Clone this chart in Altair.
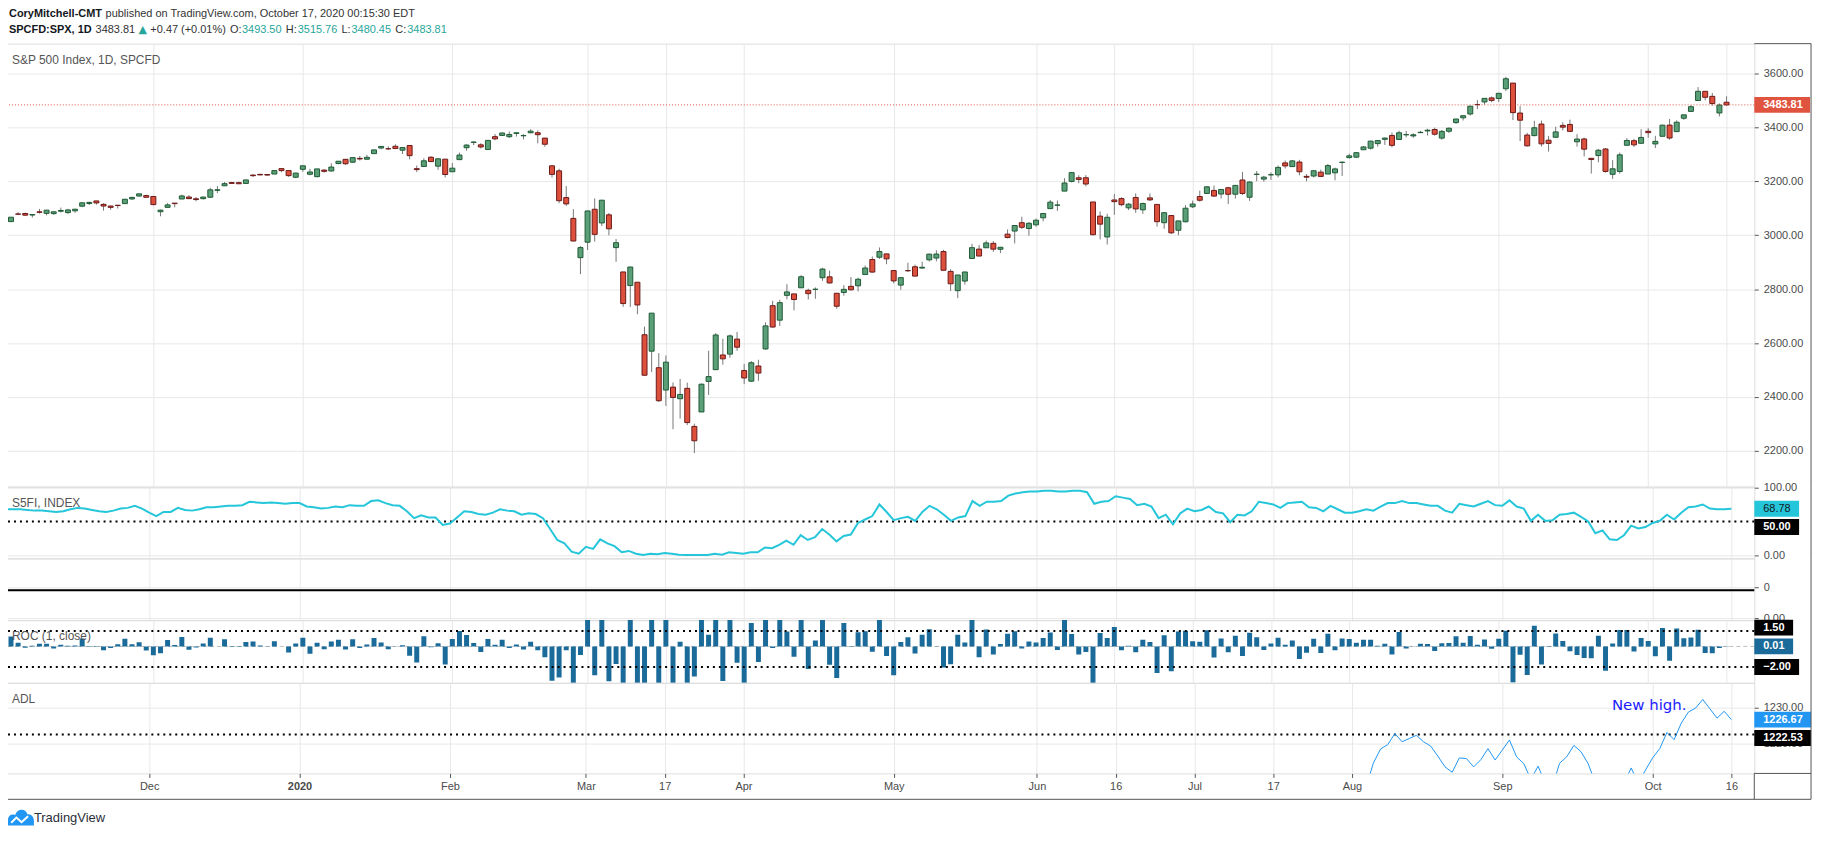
import altair as alt
import pandas as pd

# ---------------- data ----------------
# daily candles (open, high, low, close); first row = previous session, off-screen
oct19_prev = [(3046.90, 3046.90, 3023.19, 3037.56)]
nov19 = [
    (3050.72, 3066.95, 3050.72, 3066.91), (3078.96, 3085.20, 3074.87, 3078.27),
    (3080.80, 3083.95, 3072.15, 3074.62), (3075.10, 3078.34, 3065.89, 3076.78),
    (3087.02, 3097.77, 3080.23, 3085.18), (3081.25, 3093.09, 3073.58, 3093.08),
    (3080.33, 3088.33, 3075.82, 3087.01), (3089.28, 3102.61, 3084.73, 3091.84),
    (3084.18, 3098.06, 3078.80, 3094.04), (3090.75, 3098.20, 3083.26, 3096.63),
    (3107.92, 3120.46, 3104.60, 3120.46), (3117.91, 3124.17, 3112.06, 3122.03),
    (3127.45, 3127.64, 3113.47, 3120.18), (3114.66, 3118.97, 3091.41, 3108.46),
    (3108.49, 3110.11, 3094.55, 3103.54), (3111.41, 3112.87, 3099.26, 3110.29),
    (3117.44, 3133.83, 3117.44, 3133.64), (3134.85, 3142.69, 3131.00, 3140.52),
    (3145.49, 3154.26, 3143.41, 3153.63), (3147.18, 3150.30, 3139.34, 3140.98),
]
dec19 = [
    (3143.85, 3144.31, 3110.78, 3113.87), (3087.41, 3094.97, 3070.33, 3093.20),
    (3103.50, 3119.38, 3102.53, 3112.76), (3119.21, 3119.45, 3103.76, 3117.43),
    (3134.62, 3150.60, 3134.62, 3145.91), (3141.86, 3148.87, 3135.46, 3135.96),
    (3135.36, 3142.12, 3126.09, 3132.52), (3135.75, 3143.98, 3133.21, 3141.63),
    (3141.23, 3176.28, 3138.47, 3168.57), (3166.65, 3182.68, 3156.51, 3168.80),
    (3183.63, 3197.71, 3183.63, 3191.45), (3195.40, 3198.22, 3191.03, 3192.52),
    (3195.21, 3198.48, 3191.14, 3191.14), (3192.32, 3205.48, 3192.32, 3205.37),
    (3223.33, 3225.65, 3216.03, 3221.22), (3226.05, 3227.78, 3222.30, 3224.01),
    (3225.45, 3226.43, 3220.51, 3223.38), (3227.20, 3240.08, 3227.20, 3239.91),
    (3247.23, 3247.93, 3234.37, 3240.02), (3240.09, 3240.92, 3216.57, 3221.29),
    (3215.18, 3231.72, 3212.03, 3230.78),
]
jan20 = [
    (3244.67, 3258.14, 3235.53, 3257.85), (3226.36, 3246.15, 3222.34, 3234.85),
    (3217.55, 3246.84, 3214.64, 3246.28), (3241.86, 3244.91, 3232.43, 3237.18),
    (3238.59, 3267.07, 3236.67, 3253.05), (3266.03, 3275.58, 3263.67, 3274.70),
    (3281.81, 3282.99, 3260.86, 3265.35), (3271.13, 3288.13, 3268.43, 3288.13),
    (3285.35, 3294.25, 3277.19, 3283.15), (3282.27, 3298.66, 3280.69, 3289.29),
    (3302.97, 3317.11, 3302.82, 3316.81), (3323.66, 3329.88, 3318.86, 3329.62),
    (3321.03, 3329.79, 3316.61, 3320.79), (3330.02, 3337.77, 3320.04, 3321.75),
    (3315.77, 3326.88, 3301.87, 3325.54), (3333.10, 3333.18, 3281.53, 3295.47),
    (3247.16, 3258.85, 3234.50, 3243.63), (3255.35, 3285.78, 3253.22, 3276.24),
    (3289.46, 3293.47, 3271.89, 3273.40), (3256.45, 3285.91, 3242.80, 3283.66),
    (3282.33, 3282.33, 3214.68, 3225.52),
]
feb20 = [
    (3235.66, 3268.44, 3235.66, 3248.92), (3280.61, 3306.92, 3280.61, 3297.59),
    (3324.91, 3337.58, 3313.75, 3334.69), (3344.92, 3347.96, 3334.39, 3345.78),
    (3335.54, 3341.42, 3322.12, 3327.71), (3318.28, 3352.26, 3317.77, 3352.09),
    (3365.87, 3375.63, 3352.72, 3357.75), (3370.50, 3381.47, 3369.72, 3379.45),
    (3365.90, 3385.09, 3360.52, 3373.94), (3378.08, 3380.69, 3366.15, 3380.16),
    (3369.04, 3375.01, 3355.61, 3370.29), (3380.39, 3393.52, 3378.83, 3386.15),
    (3380.45, 3389.15, 3341.02, 3373.23), (3360.50, 3360.76, 3328.45, 3337.75),
    (3257.61, 3259.81, 3214.65, 3225.89), (3238.94, 3246.99, 3118.77, 3128.21),
    (3139.90, 3182.51, 3108.99, 3116.39), (3062.54, 3097.07, 2977.39, 2978.76),
    (2916.90, 2959.72, 2855.84, 2954.22),
]
mar20 = [
    (2974.28, 3090.96, 2945.19, 3090.23), (3096.46, 3136.72, 2976.63, 3003.37),
    (3045.75, 3130.97, 3034.38, 3130.12), (3075.70, 3083.04, 2999.83, 3023.94),
    (2954.20, 2985.93, 2901.54, 2972.37), (2863.89, 2863.89, 2734.43, 2746.56),
    (2813.48, 2882.59, 2734.00, 2882.23), (2825.60, 2825.60, 2707.22, 2741.38),
    (2630.86, 2660.95, 2478.86, 2480.64), (2569.99, 2711.33, 2492.37, 2711.02),
    (2508.59, 2562.98, 2380.94, 2386.13), (2425.66, 2553.93, 2367.04, 2529.19),
    (2436.50, 2453.57, 2280.52, 2398.10), (2393.48, 2466.97, 2319.78, 2409.39),
    (2431.94, 2453.01, 2295.56, 2304.92), (2290.71, 2300.73, 2191.86, 2237.40),
    (2344.44, 2449.71, 2344.44, 2447.33), (2457.77, 2571.42, 2407.53, 2475.56),
    (2501.29, 2637.01, 2500.72, 2630.07), (2555.87, 2615.91, 2520.02, 2541.47),
    (2558.98, 2631.80, 2545.28, 2626.65), (2614.69, 2641.39, 2571.15, 2584.59),
]
apr20 = [
    (2498.08, 2522.75, 2447.49, 2470.50), (2458.54, 2533.22, 2455.79, 2526.90),
    (2514.92, 2538.18, 2459.96, 2488.65), (2578.28, 2676.85, 2574.57, 2663.68),
    (2738.65, 2756.89, 2657.67, 2659.41), (2685.00, 2760.75, 2663.30, 2749.98),
    (2776.99, 2818.57, 2762.36, 2789.82), (2782.46, 2782.46, 2721.17, 2761.63),
    (2805.10, 2851.85, 2805.10, 2846.06), (2795.64, 2801.88, 2761.54, 2783.36),
    (2799.34, 2806.51, 2764.32, 2799.55), (2842.43, 2879.22, 2830.88, 2874.56),
    (2845.62, 2868.98, 2820.43, 2823.16), (2784.81, 2785.54, 2727.10, 2736.56),
    (2787.89, 2815.10, 2775.95, 2799.31), (2810.42, 2844.90, 2794.26, 2797.80),
    (2812.64, 2842.71, 2791.76, 2836.74), (2854.65, 2887.72, 2852.89, 2878.48),
    (2909.96, 2921.15, 2860.71, 2863.39), (2918.46, 2954.86, 2912.16, 2939.51),
    (2930.91, 2930.91, 2892.47, 2912.43),
]
may20 = [
    (2869.09, 2869.09, 2821.61, 2830.71), (2815.01, 2844.24, 2797.85, 2842.74),
    (2868.88, 2898.23, 2863.55, 2868.44), (2883.14, 2891.11, 2847.65, 2848.42),
    (2878.26, 2901.92, 2876.48, 2881.19), (2908.83, 2932.16, 2902.88, 2929.80),
    (2915.46, 2944.25, 2903.44, 2930.32), (2939.50, 2945.82, 2869.59, 2870.12),
    (2865.86, 2874.14, 2793.15, 2820.00), (2794.54, 2852.80, 2766.64, 2852.50),
    (2829.95, 2865.01, 2816.78, 2863.70), (2913.86, 2968.09, 2913.86, 2953.91),
    (2948.59, 2964.21, 2922.35, 2922.94), (2953.63, 2980.29, 2953.63, 2971.61),
    (2969.95, 2978.50, 2938.57, 2948.51), (2948.05, 2956.76, 2933.59, 2955.45),
    (3004.08, 3021.72, 2988.17, 2991.77), (3015.65, 3036.25, 2969.75, 3036.13),
    (3046.61, 3068.67, 3023.40, 3029.73), (3025.17, 3049.17, 2998.61, 3044.31),
]
jun20 = [
    (3038.78, 3062.18, 3031.54, 3055.73), (3064.78, 3081.07, 3051.64, 3080.82),
    (3098.90, 3130.94, 3098.90, 3122.87), (3111.56, 3128.91, 3090.41, 3112.35),
    (3163.84, 3211.72, 3163.84, 3193.93), (3199.92, 3233.13, 3196.00, 3232.39),
    (3213.32, 3222.71, 3193.11, 3207.18), (3213.42, 3223.27, 3181.49, 3190.14),
    (3123.53, 3123.53, 2999.49, 3002.10), (3071.04, 3088.42, 2984.47, 3041.31),
    (2993.76, 3079.76, 2965.66, 3066.59), (3131.00, 3153.45, 3076.06, 3124.74),
    (3136.13, 3141.16, 3108.03, 3113.49), (3101.64, 3120.00, 3093.51, 3115.34),
    (3140.29, 3155.53, 3083.11, 3097.74), (3094.42, 3120.92, 3079.39, 3117.86),
    (3138.70, 3154.90, 3127.12, 3131.29), (3114.40, 3115.01, 3032.13, 3050.33),
    (3046.60, 3086.25, 3024.01, 3083.76), (3073.20, 3073.73, 3004.63, 3009.05),
    (3018.59, 3053.89, 2999.74, 3053.24), (3050.20, 3111.51, 3047.83, 3100.29),
]
jul20 = [
    (3105.92, 3128.44, 3101.17, 3115.86), (3143.64, 3165.81, 3124.52, 3130.01),
    (3155.29, 3182.59, 3155.29, 3179.72), (3166.44, 3184.15, 3142.93, 3145.32),
    (3153.07, 3171.80, 3136.53, 3169.94), (3176.17, 3179.78, 3115.70, 3152.05),
    (3152.47, 3186.82, 3136.22, 3185.04), (3205.08, 3235.32, 3149.43, 3155.22),
    (3141.11, 3200.95, 3127.66, 3197.52), (3225.98, 3238.28, 3200.76, 3226.56),
    (3208.36, 3220.39, 3198.59, 3215.57), (3224.21, 3233.52, 3205.65, 3224.73),
    (3224.29, 3258.61, 3215.16, 3251.84), (3268.52, 3277.29, 3247.77, 3257.30),
    (3254.86, 3279.32, 3253.10, 3276.02), (3271.64, 3279.99, 3222.66, 3235.66),
    (3218.58, 3227.26, 3200.05, 3215.63), (3219.84, 3241.43, 3214.25, 3239.41),
    (3234.27, 3243.72, 3216.17, 3218.44), (3227.22, 3264.74, 3227.22, 3258.44),
    (3231.76, 3250.92, 3204.13, 3246.22), (3270.45, 3272.17, 3220.26, 3271.12),
]
aug20 = [
    (3288.26, 3302.73, 3284.53, 3294.61), (3289.92, 3306.84, 3286.37, 3306.51),
    (3317.37, 3330.77, 3317.37, 3327.77), (3323.17, 3351.03, 3318.14, 3349.16),
    (3340.05, 3352.54, 3328.72, 3351.28), (3356.04, 3363.29, 3335.44, 3360.47),
    (3370.34, 3381.01, 3326.44, 3333.69), (3355.46, 3387.89, 3355.46, 3380.35),
    (3372.95, 3387.24, 3363.35, 3373.43), (3368.66, 3378.51, 3361.64, 3372.85),
    (3380.86, 3387.59, 3379.22, 3381.99), (3387.04, 3395.06, 3370.15, 3389.78),
    (3392.51, 3399.54, 3369.66, 3374.85), (3360.48, 3390.80, 3354.69, 3385.51),
    (3386.01, 3399.96, 3379.31, 3397.16), (3418.09, 3432.09, 3413.13, 3431.28),
    (3435.95, 3444.21, 3425.84, 3443.62), (3449.97, 3481.07, 3444.15, 3478.73),
    (3485.14, 3501.38, 3468.35, 3484.55), (3494.69, 3509.23, 3484.32, 3508.01),
    (3509.73, 3514.77, 3493.25, 3500.31),
]
sep20 = [
    (3507.44, 3528.03, 3494.60, 3526.65), (3543.76, 3588.11, 3535.23, 3580.84),
    (3564.74, 3564.85, 3427.41, 3455.06), (3453.60, 3479.15, 3349.63, 3426.96),
    (3371.88, 3379.97, 3329.27, 3331.84), (3369.82, 3424.77, 3366.84, 3398.96),
    (3412.56, 3425.55, 3329.25, 3339.19), (3352.70, 3368.95, 3310.47, 3340.97),
    (3363.56, 3402.93, 3363.56, 3383.54), (3407.73, 3419.48, 3389.25, 3401.20),
    (3411.23, 3428.92, 3384.45, 3385.49), (3346.86, 3375.17, 3328.82, 3357.01),
    (3357.38, 3362.27, 3292.40, 3319.47), (3285.57, 3285.57, 3229.10, 3281.06),
    (3295.75, 3320.31, 3270.95, 3315.57), (3320.11, 3323.35, 3232.57, 3236.92),
    (3226.14, 3278.70, 3209.45, 3246.59), (3236.66, 3306.88, 3228.44, 3298.46),
    (3333.90, 3360.74, 3332.91, 3351.60), (3350.92, 3357.92, 3327.54, 3335.47),
    (3341.21, 3393.56, 3340.47, 3363.00),
]
oct20 = [
    (3385.87, 3397.18, 3361.39, 3380.80), (3338.94, 3369.10, 3323.69, 3348.42),
    (3367.27, 3409.57, 3367.27, 3408.60), (3408.74, 3431.56, 3354.54, 3360.97),
    (3384.56, 3426.26, 3384.56, 3419.44), (3434.28, 3447.28, 3428.15, 3446.83),
    (3459.67, 3482.34, 3458.07, 3477.14), (3500.02, 3549.85, 3499.61, 3534.22),
    (3534.01, 3534.01, 3500.86, 3511.93), (3515.47, 3527.94, 3480.55, 3488.67),
    (3453.72, 3489.08, 3440.89, 3483.34), (3493.50, 3515.76, 3480.45, 3483.81),
]

# S5FI (% of S&P 500 stocks above 50-day MA), one value per bar
s5fi = [
    68, 68, 68, 67, 66, 66, 65, 64, 65, 68,
    70, 69, 67, 65, 64, 66, 69, 70, 73, 69,
    63, 58, 64, 64, 70, 67, 66, 68, 71, 71,
    72, 73, 73, 74, 79, 78, 77, 78, 77, 76,
    77, 77, 72, 71, 69, 70, 72, 71, 74, 73,
    73, 80, 81, 77, 74, 73, 65, 55, 59, 56,
    56, 45, 47, 56, 65, 64, 61, 60, 63, 68,
    66, 65, 60, 62, 61, 55, 39, 23, 18, 6,
    3, 13, 10, 24, 18, 14, 5, 7, 3, 1,
    3, 2, 4, 3, 1.5, 1, 1, 1, 1, 3,
    1.5, 5, 4, 3, 5, 5, 12, 11, 16, 22,
    16, 30, 23, 27, 39, 31, 21, 29, 31, 48,
    53, 58, 75, 64, 52, 55, 57, 51, 64, 73,
    68, 60, 51, 56, 58, 80, 73, 79, 79, 80,
    88, 91, 93, 94, 94, 95, 95, 94, 94, 95,
    95, 93, 76, 79, 80, 87, 85, 83, 74, 76,
    72, 55, 60, 46, 62, 69, 65, 67, 72, 64,
    62, 49, 60, 59, 65, 79, 77, 75, 70, 77,
    78, 79, 71, 70, 65, 73, 68, 63, 63, 65,
    68, 66, 72, 77, 77, 80, 77, 77, 75, 73,
    73, 66, 63, 76, 74, 72, 76, 80, 74, 73,
    81, 72, 69, 51, 60, 51, 52, 60, 61, 63,
    57, 50, 33, 37, 24, 23, 30, 44, 40, 42,
    48, 51, 60, 53, 63, 71, 72, 75, 69, 68,
    68, 68.78,
]

# ADL values (visible part, from bar 189 on)
adl_start = 189
adl = [
    1205, 1208, 1214.6, 1218.5, 1219.7, 1222.8, 1220.5, 1221.4, 1222.3, 1220.5,
    1219.3, 1216.5, 1213.5, 1212, 1216, 1215.8, 1213.5, 1215.5, 1218.6, 1215.4,
    1218.2, 1221, 1216.3, 1214.4, 1210, 1213.7, 1209, 1208, 1214.5, 1216.3,
    1219.5, 1217.7, 1214.4, 1209, 1206, 1204, 1205, 1209, 1213.2, 1209,
    1212.6, 1216, 1218.6, 1223.1, 1221.1, 1225.7, 1228.8, 1229.9, 1232.3, 1229.7,
    1227.1, 1229, 1226.67,
]

tick_idx = [20, 41, 62, 81, 92, 103, 124, 144, 155, 166, 177, 188, 209, 230, 241]
tick_lab = ["Dec", "2020", "Feb", "Mar", "17", "Apr", "May", "Jun", "16", "Jul",
            "17", "Aug", "Sep", "Oct", "16"]

# ---------------- tables ----------------
rows = oct19_prev + nov19 + dec19 + jan20 + feb20 + mar20 + apr20 + may20 + jun20 + jul20 + aug20 + sep20 + oct20
df = pd.DataFrame(rows, columns=["open", "high", "low", "close"])
df["idx"] = list(range(-1, len(rows) - 1))
s5 = pd.DataFrame({"idx": list(range(len(s5fi))), "v": s5fi})
adl_df = pd.DataFrame({"idx": list(range(adl_start, adl_start + len(adl))), "v": adl})
ticks_df = pd.DataFrame({"idx": tick_idx})
one = pd.DataFrame({"a": [0]})

# ---------------- styling ----------------
W = 1756
GRID = "#e8e8e8"
FRAME = "#555555"
LBL = "#4a4a4a"
FONT = "Liberation Sans"
UP_F, UP_S = "#5a9f78", "#1e5a34"
DN_F, DN_S = "#dc503c", "#6b1a1a"
TEAL = "#26a69a"
XDOM = [0.0, 244.2]
VISIBLE = "datum.idx >= 0"

expr = ""
for i, l in zip(tick_idx, tick_lab):
    expr += f"datum.value == {i} ? '{l}' : "
expr += "''"


def xenc(labels=False):
    if labels:
        ax = alt.Axis(values=tick_idx, labelExpr=expr, grid=True, gridColor=GRID,
                      domain=False, ticks=True, tickSize=4, tickColor=FRAME,
                      labelPadding=3, labelFontSize=11, labelColor=LBL,
                      labelOverlap=False, labelFlush=False, title=None,
                      labelFontWeight={"condition": {"test": "datum.value == 41", "value": "bold"},
                                       "value": "normal"})
    else:
        ax = alt.Axis(values=tick_idx, labels=False, ticks=False, domain=False,
                      grid=True, gridColor=GRID, title=None)
    return alt.X("idx:Q", scale=alt.Scale(domain=XDOM, nice=False, zero=False), axis=ax)


def yaxis(values, fmt=".2f"):
    return alt.Axis(orient="right", values=values, format=fmt, grid=True, gridColor=GRID,
                    domain=False, ticks=True, tickSize=4, tickColor=FRAME, labelPadding=5,
                    labelFontSize=11, labelColor=LBL, labelOverlap=False, labelFlush=False,
                    title=None)


def box(val, ysc, yax, color, width, label, tcolor="white", bold=True, off=0):
    r = alt.Chart(one).mark_rule(color=color, strokeWidth=16, strokeCap="butt", yOffset=off).encode(
        x=alt.value(W), x2=alt.value(W + width), y=alt.Y(datum=val, scale=ysc, axis=yax))
    t = alt.Chart(one).mark_text(text=label, align="left", baseline="middle", fontSize=11,
                                 font=FONT, color=tcolor,
                                 fontWeight="bold" if bold else "normal", dy=off).encode(
        x=alt.value(W + 9), y=alt.Y(datum=val, scale=ysc, axis=yax))
    return [r, t]


def rframe(h):
    return alt.Chart(one).mark_rule(color=FRAME).encode(
        x=alt.value(W + 57), y=alt.value(0), y2=alt.value(h))


def ptitle(txt):
    return alt.Chart(one).mark_text(text=txt, align="left", baseline="middle", fontSize=12,
                                    font=FONT, color="#555").encode(
        x=alt.value(6), y=alt.value(16))


def htext(txt, x, y, color="#333", bold=False, font=FONT):
    return alt.Chart(one).mark_text(text=txt, align="left", baseline="middle", fontSize=11,
                                    font=font, color=color,
                                    fontWeight="bold" if bold else "normal").encode(
        x=alt.value(x + 3), y=alt.value(y))


# ---------------- main price panel ----------------
H1 = 445
ys1 = alt.Scale(domain=[2067, 3711], nice=False, zero=False)
ya1 = yaxis([2200, 2400, 2600, 2800, 3000, 3200, 3400, 3600])
is_up = "datum.close >= datum.open"

wicks = alt.Chart(df).transform_filter(VISIBLE).mark_rule(color="#777777", clip=True).encode(
    x=xenc(), y=alt.Y("low:Q", scale=ys1, axis=ya1), y2="high:Q")
bodies = alt.Chart(df).transform_filter(VISIBLE).mark_bar(size=5, strokeWidth=1, clip=True).encode(
    x=xenc(), y=alt.Y("open:Q", scale=ys1, axis=ya1), y2="close:Q",
    fill=alt.condition(is_up, alt.value(UP_F), alt.value(DN_F)),
    stroke=alt.condition(is_up, alt.value(UP_S), alt.value(DN_S)))
last_line = alt.Chart(one).mark_rule(color="#e0533f", strokeDash=[1, 2]).encode(
    y=alt.Y(datum=3483.81, scale=ys1, axis=ya1))

Y1, Y2 = -30, -14
header = [
    htext("CoryMitchell-CMT", 0, Y1, "#131722", True),
    htext("published on TradingView.com, October 17, 2020 00:15:30 EDT", 97, Y1),
    htext("SPCFD:SPX, 1D", 0, Y2, "#131722", True),
    htext("3483.81", 87, Y2),
    htext("\u25B2", 130, Y2, TEAL, font="DejaVu Sans"),
    htext("+0.47 (+0.01%)", 142, Y2),
    htext("O:", 222, Y2), htext("3493.50", 234, Y2, TEAL),
    htext("H:", 278, Y2), htext("3515.76", 290, Y2, TEAL),
    htext("L:", 334, Y2), htext("3480.45", 344, Y2, TEAL),
    htext("C:", 388, Y2), htext("3483.81", 400, Y2, TEAL),
]
top_frame = alt.Chart(one).mark_rule(color=FRAME).encode(
    x=alt.value(W), x2=alt.value(W + 57), y=alt.value(0))

main = alt.layer(
    wicks, bodies, last_line,
    *box(3483.81, ys1, ya1, "#e0533f", 56, "3483.81"),
    ptitle("S&P 500 Index, 1D, SPCFD"), rframe(H1), top_frame, *header,
).properties(width=W, height=H1)

# ---------------- S5FI panel ----------------
H2 = 72
ys2 = alt.Scale(domain=[-3.9, 101], nice=False, zero=False)
ya2 = yaxis([0, 100])
s5_line = alt.Chart(s5).mark_line(color="#26c6da", strokeWidth=2, clip=True).encode(
    x=xenc(), y=alt.Y("v:Q", scale=ys2, axis=ya2))
s5_50 = alt.Chart(one).mark_rule(color="black", strokeDash=[2, 4], strokeWidth=2).encode(
    y=alt.Y(datum=50, scale=ys2, axis=ya2))
p_s5 = alt.layer(
    s5_50, s5_line,
    *box(68.78, ys2, ya2, "#26c6da", 45, "68.78", tcolor="#131722", bold=False),
    *box(50, ys2, ya2, "black", 45, "50.00", off=5.5),
    ptitle("S5FI, INDEX"), rframe(H2),
).properties(width=W, height=H2)

# ---------------- two empty panels ----------------
H3 = 31
ys3 = alt.Scale(domain=[-0.07, 1], nice=False, zero=False)
p3 = alt.layer(
    alt.Chart(ticks_df).mark_point(opacity=0).encode(
        x=xenc(), y=alt.Y(datum=0, scale=ys3, axis=yaxis([0], ".0f"))),
    rframe(H3),
).properties(width=W, height=H3)

p4 = alt.layer(
    alt.Chart(ticks_df).mark_point(opacity=0).encode(
        x=xenc(), y=alt.Y(datum=0, scale=ys3, axis=yaxis([0], ".2f"))),
    alt.Chart(one).mark_rule(color="black", strokeWidth=2).encode(
        x=alt.value(0), x2=alt.value(W), y=alt.value(1)),
    rframe(H3),
).properties(width=W, height=H3)

# ---------------- ROC panel ----------------
H5 = 63
ys5 = alt.Scale(domain=[-3.55, 2.57], nice=False, zero=False)
ya5 = None
roc_bars = alt.Chart(df).transform_window(
    prev="lag(close)", sort=[alt.SortField("idx", order="ascending")]
).transform_filter("isValid(datum.prev)").transform_filter(VISIBLE).transform_calculate(
    roc="(datum.close / datum.prev - 1) * 100"
).mark_bar(size=5, color="#1a6b99", clip=True).encode(
    x=xenc(), y=alt.Y("roc:Q", scale=ys5, axis=ya5), y2=alt.datum(0))
roc_zero = alt.Chart(one).mark_rule(color="#bdbdbd", strokeDash=[4, 3]).encode(
    y=alt.Y(datum=0, scale=ys5, axis=ya5))
roc_hi = alt.Chart(one).mark_rule(color="black", strokeDash=[2, 4], strokeWidth=2).encode(
    y=alt.Y(datum=1.5, scale=ys5, axis=ya5))
roc_lo = alt.Chart(one).mark_rule(color="black", strokeDash=[2, 4], strokeWidth=2).encode(
    y=alt.Y(datum=-2, scale=ys5, axis=ya5))
p_roc = alt.layer(
    roc_zero, roc_bars, roc_hi, roc_lo,
    *box(1.5, ys5, ya5, "black", 39, "1.50", off=-3.5),
    *box(0.01, ys5, ya5, "#1a6b99", 39, "0.01"),
    *box(-2, ys5, ya5, "black", 45, "\u22122.00"),
    ptitle("ROC (1, close)"), rframe(H5),
).properties(width=W, height=H5)

# ---------------- ADL panel ----------------
H6 = 91
ys6 = alt.Scale(domain=[1211.67, 1236.94], nice=False, zero=False)
ya6 = yaxis([1220, 1230])
adl_line = alt.Chart(adl_df).mark_line(color="#2196f3", strokeWidth=1, clip=True).encode(
    x=xenc(True), y=alt.Y("v:Q", scale=ys6, axis=ya6))
adl_dot = alt.Chart(one).mark_rule(color="black", strokeDash=[2, 4], strokeWidth=2).encode(
    y=alt.Y(datum=1222.53, scale=ys6, axis=ya6))
new_high = alt.Chart(one).mark_text(text="New high.", align="left", baseline="middle",
                                    fontSize=15, font="DejaVu Sans", color="#1c1cff").encode(
    x=alt.value(1613), y=alt.value(22))
cloud = ("M-1,0.55 L-1,0.15 C-1,-0.2 -0.75,-0.35 -0.45,-0.25 C-0.3,-0.75 0.35,-0.8 0.5,-0.3 "
         "C0.8,-0.35 1,-0.1 1,0.2 L1,0.55 Z")
zig = "M-0.75,0.35 L-0.35,-0.05 L0.05,0.3 L0.55,-0.15"
logo = alt.Chart(one).mark_point(shape=cloud, filled=True, color="#2196f3", size=680, opacity=1).encode(
    x=alt.value(15), y=alt.value(136))
logo2 = alt.Chart(one).mark_point(shape=zig, filled=False, color="white", strokeWidth=2, size=680, opacity=1).encode(
    x=alt.value(15), y=alt.value(136))
tv_text = alt.Chart(one).mark_text(text="TradingView", align="left", baseline="middle", fontSize=13,
                                   font=FONT, color="#2a2e39").encode(
    x=alt.value(28), y=alt.value(136))
frames = [
    alt.Chart(one).mark_rule(color=FRAME).encode(x=alt.value(W + 57), y=alt.value(0), y2=alt.value(H6 + 26)),
    alt.Chart(one).mark_rule(color=FRAME).encode(x=alt.value(W), x2=alt.value(W + 57), y=alt.value(H6)),
    alt.Chart(one).mark_rule(color=FRAME).encode(x=alt.value(0), x2=alt.value(W + 57), y=alt.value(H6 + 26)),
    alt.Chart(one).mark_rule(color=FRAME).encode(x=alt.value(0), y=alt.value(H6), y2=alt.value(H6 + 26)),
    alt.Chart(one).mark_rule(color=FRAME).encode(x=alt.value(W), y=alt.value(H6), y2=alt.value(H6 + 26)),
]
p_adl = alt.layer(
    adl_dot, adl_line,
    *box(1226.67, ys6, ya6, "#2196f3", 57, "1226.67"),
    *box(1222.53, ys6, ya6, "black", 57, "1222.53", off=3.5),
    ptitle("ADL"), new_high, logo, logo2, tv_text, *frames,
).properties(width=W, height=H6)

chart = alt.vconcat(main, p_s5, p3, p4, p_roc, p_adl, spacing=0, bounds="flush").properties(
    padding={"left": -4, "top": -3, "right": 0, "bottom": 0}
).configure_view(stroke=FRAME, strokeWidth=1).configure_axis(
    labelFont=FONT).configure(background="white")

chart.save("out.html", embed_options={"renderer": "svg", "actions": False})
